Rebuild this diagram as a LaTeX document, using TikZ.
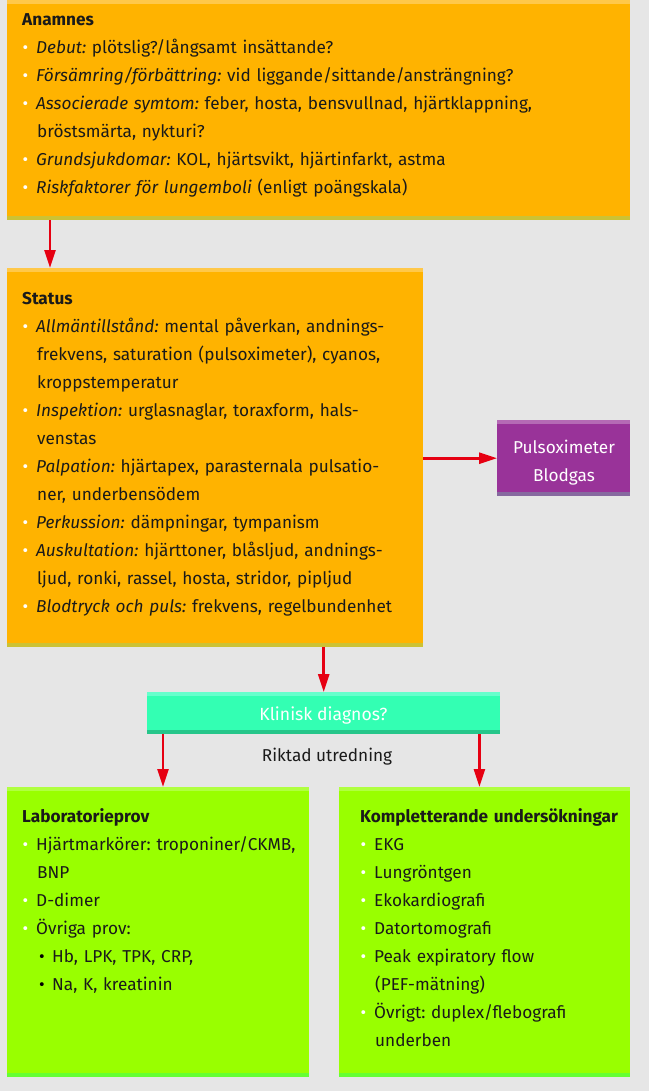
\documentclass[tikz,border=0pt]{standalone}
\usepackage{fontspec}
\setmainfont{Fira Sans}
\usetikzlibrary{arrows.meta}
\AtBeginDocument{\frenchspacing}

\definecolor{bggray}{RGB}{230,230,230}
\definecolor{inkdark}{RGB}{26,26,26}
\definecolor{arrowred}{RGB}{230,0,18}
\definecolor{orng}{RGB}{255,179,0}
\definecolor{orngtop}{RGB}{255,200,74}
\definecolor{orngbot}{RGB}{204,194,52}
\definecolor{purp}{RGB}{153,51,153}
\definecolor{purptop}{RGB}{181,106,181}
\definecolor{purpbot}{RGB}{134,105,159}
\definecolor{teal}{RGB}{51,255,179}
\definecolor{tealtop}{RGB}{102,255,204}
\definecolor{tealbot}{RGB}{38,198,138}
\definecolor{lime}{RGB}{153,255,0}
\definecolor{limetop}{RGB}{176,255,64}
\definecolor{limebot}{RGB}{102,255,51}

\tikzset{
  box/.style={rectangle, draw=none, inner sep=0pt, anchor=north west},
  txt/.style={inner sep=0pt, anchor=base west, text=inkdark, font=\fontsize{17.2}{28}\selectfont},
  arr/.style={draw=arrowred, line width=2.6pt, -{Triangle[length=18pt,width=11pt]}},
}
\newcommand{\bul}{\makebox[14pt][l]{\hspace{0.5pt}\textcolor{white}{\textbullet}}}
\newcommand{\cont}{\hspace*{15pt}}
\newcommand{\subbul}{\hspace*{17pt}\makebox[13pt][l]{\textcolor{black}{\textbullet}}}
\newcommand{\kw}[1]{{\itshape #1}}

\begin{document}
\begin{tikzpicture}[x=1pt,y=1pt,yscale=-1,xscale=1]
	%set diagram to the full page
	\fill[bggray] (0,0) rectangle (649,1091);

	%Shape: Rectangle [Anamnes]
	\node (anamnes) [box, fill=orng, minimum width=623, minimum height=220] at (7,0) {};
	\fill[orngtop] (anamnes.north west) rectangle ++(623,4);
	\fill[orngbot] (anamnes.south west) rectangle ++(623,-4);
	% Text Node
	\node (anamnestxt) [txt, text width=600] at (22,26) {\textbf{Anamnes}\\
		\bul\kw{Debut:} plötslig?/långsamt insättande?\\
		\bul\kw{Försämring/förbättring:} vid liggande/sittande/ansträngning?\\
		\bul\kw{Associerade symtom:} feber, hosta, bensvullnad, hjärtklappning,\\
		\cont bröstsmärta, nykturi?\\
		\bul\kw{Grundsjukdomar:} KOL, hjärtsvikt, hjärtinfarkt, astma\\
		\bul\kw{Riskfaktorer för lungemboli} (enligt poängskala)};

	%Shape: Rectangle [Status]
	\node (status) [box, fill=orng, minimum width=416, minimum height=379] at (7,268) {};
	\fill[orngtop] (status.north west) rectangle ++(416,4);
	\fill[orngbot] (status.south west) rectangle ++(416,-4);
	% Text Node
	\node (statustxt) [txt, text width=395] at (22,304.5) {\textbf{Status}\\
		\bul\kw{Allmäntillstånd:} mental påverkan, andnings-\\
		\cont frekvens, saturation (pulsoximeter), cyanos,\\
		\cont kroppstemperatur\\
		\bul\kw{Inspektion:} urglasnaglar, toraxform, hals-\\
		\cont venstas\\
		\bul\kw{Palpation:} hjärtapex, parasternala pulsatio-\\
		\cont ner, underbensödem\\
		\bul\kw{Perkussion:} dämpningar, tympanism\\
		\bul\kw{Auskultation:} hjärttoner, blåsljud, andnings-\\
		\cont ljud, ronki, rassel, hosta, stridor, pipljud\\
		\bul\kw{Blodtryck och puls:} frekvens, regelbundenhet};

	%Shape: Rectangle [Pulsoximeter]
	\node (pulsox) [box, fill=purp, minimum width=133, minimum height=76] at (497,420) {};
	\fill[purptop] (pulsox.north west) rectangle ++(133,4);
	\fill[purpbot] (pulsox.south west) rectangle ++(133,-4);
	% Text Node
	\node (pulsoxtxt) [inner sep=0pt, anchor=base, text=white, text width=133, align=center, font=\fontsize{17.2}{28}\selectfont] at (564,453) {Pulsoximeter\\Blodgas};

	%Shape: Rectangle [Klinisk diagnos]
	\node (klinisk) [box, fill=teal, minimum width=353, minimum height=42] at (147,692) {};
	\fill[tealtop] (klinisk.north west) rectangle ++(353,4);
	\fill[tealbot] (klinisk.south west) rectangle ++(353,-4);
	% Text Node
	\node (klinisktxt) [inner sep=0pt, anchor=base, text=white, font=\fontsize{17.6}{28}\selectfont] at (323.5,720) {Klinisk diagnos?};

	% Text Node
	\node (riktad) [inner sep=0pt, anchor=base, text=inkdark, font=\fontsize{17.2}{28}\selectfont] at (327,761.5) {Riktad utredning};

	%Shape: Rectangle [Laboratorieprov]
	\node (lab) [box, fill=lime, minimum width=302, minimum height=290] at (7,787) {};
	\fill[limetop] (lab.north west) rectangle ++(302,4);
	\fill[limebot] (lab.south west) rectangle ++(302,-4);
	% Text Node
	\node (labtxt) [txt, text width=285] at (22,822) {\textbf{Laboratorieprov}\\
		\bul Hjärtmarkörer: troponiner/CKMB,\\
		\cont BNP\\
		\bul D-dimer\\
		\bul Övriga prov:\\
		\subbul Hb, LPK, TPK, CRP,\\
		\subbul Na, K, kreatinin};

	%Shape: Rectangle [Kompletterande]
	\node (kompl) [box, fill=lime, minimum width=291, minimum height=290] at (339,787) {};
	\fill[limetop] (kompl.north west) rectangle ++(291,4);
	\fill[limebot] (kompl.south west) rectangle ++(291,-4);
	% Text Node
	\node (kompltxt) [txt, text width=275] at (360,822) {\textbf{Kompletterande undersökningar}\\
		\bul EKG\\
		\bul Lungröntgen\\
		\bul Ekokardiografi\\
		\bul Datortomografi\\
		\bul Peak expiratory flow\\
		\cont (PEF-mätning)\\
		\bul Övrigt: duplex/flebografi\\
		\cont underben};

	%Straight Lines with arrows
	\draw[arr] ([xshift=43pt]anamnes.south west) -- ([xshift=43pt]status.north west);
	\draw[arr] (status.east |- pulsox.west) -- (pulsox.west);
	\draw[arr] (klinisk.north |- status.south) -- (klinisk.north);
	\draw[arr] ([xshift=16pt]klinisk.south west) -- ([xshift=16pt]klinisk.south west |- lab.north);
	\draw[arr] ([xshift=-21pt]klinisk.south east) -- ([xshift=-21pt]klinisk.south east |- kompl.north);

\end{tikzpicture}
\end{document}
